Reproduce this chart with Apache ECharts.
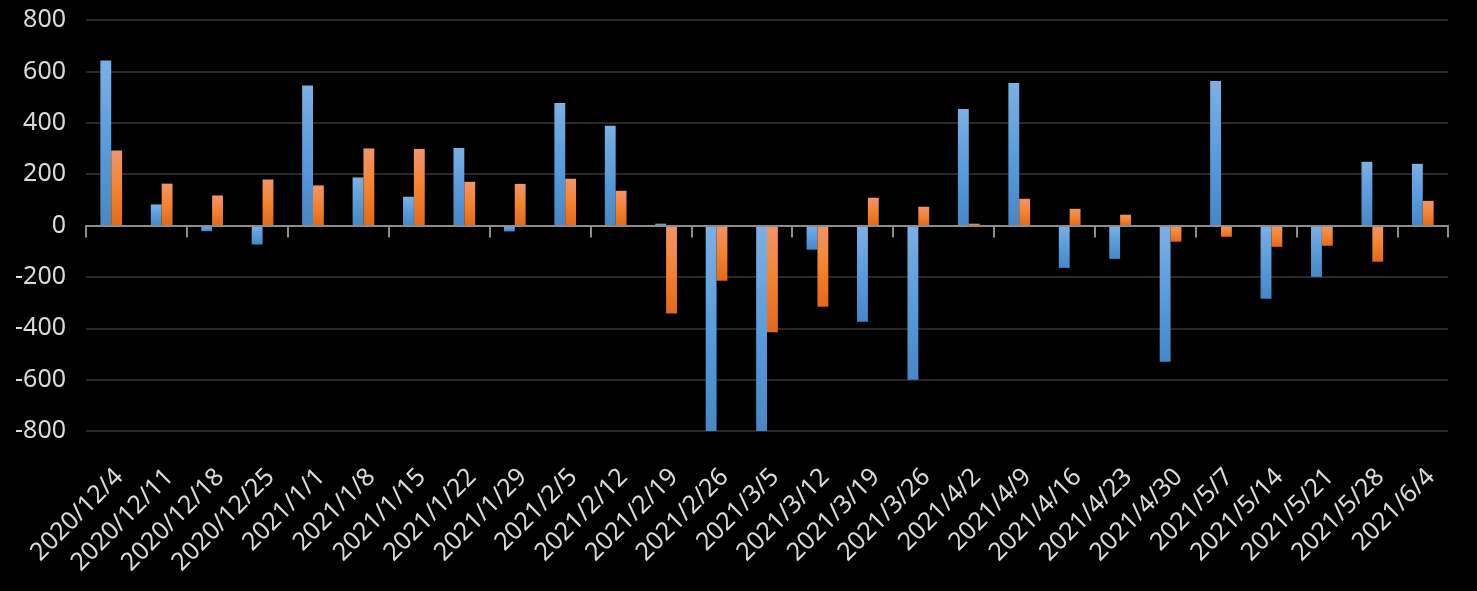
<!DOCTYPE html>
<html>
<head>
<meta charset="utf-8">
<script src="https://cdn.jsdelivr.net/npm/echarts@6/dist/echarts.min.js"></script>
<style>
html,body{margin:0;padding:0;background:#000;}
#c{width:1477px;height:591px;}
</style>
</head>
<body>
<div id="c"></div>
<script>
const categories = ["2020/12/4","2020/12/11","2020/12/18","2020/12/25","2021/1/1","2021/1/8","2021/1/15","2021/1/22","2021/1/29","2021/2/5","2021/2/12","2021/2/19","2021/2/26","2021/3/5","2021/3/12","2021/3/19","2021/3/26","2021/4/2","2021/4/9","2021/4/16","2021/4/23","2021/4/30","2021/5/7","2021/5/14","2021/5/21","2021/5/28","2021/6/4"];
const seriesBlue = [642, 82, -22, -74, 545, 187, 112, 302, -23, 477, 388, 7, -800, -800, -94, -375, -600, 454, 555, -165, -130, -530, 563, -285, -200, 248, 240];
const seriesOrange = [292, 163, 117, 179, 156, 300, 298, 170, 162, 182, 135, -343, -215, -416, -316, 108, 73, 7, 104, 65, 42, -63, -44, -83, -79, -141, 96];
const yMin = -800, yMax = 800, yStep = 200;

const chart = echarts.init(document.getElementById('c'), null, {renderer: 'canvas'});
const FONT = '"Noto Sans", "Open Sans", sans-serif';
const labelColor = '#dadada';
function grad(c0, c1, c2) {
  return new echarts.graphic.LinearGradient(0, 0, 0, 1, [
    {offset: 0, color: c0}, {offset: 0.5, color: c1}, {offset: 1, color: c2}
  ]);
}
chart.setOption({
  backgroundColor: '#000000',
  animation: false,
  grid: [
    {left: 86, right: 29, top: 20, bottom: 160},
    {left: 94, right: 21, top: 20, bottom: 160}
  ],
  xAxis: [
    {
      type: 'category', gridIndex: 0, data: categories, z: 5,
      axisLine: {onZero: true, lineStyle: {color: '#8c8c8c', width: 2}},
      axisTick: {show: true, length: 12, lineStyle: {color: '#8c8c8c', width: 2}},
      axisLabel: {show: false},
      splitLine: {show: false}
    },
    {
      type: 'category', gridIndex: 1, data: categories, position: 'bottom',
      axisLine: {show: false, onZero: false},
      axisTick: {show: false},
      axisLabel: {show: true, interval: 0, rotate: 45, margin: 42, fontSize: 25, color: labelColor, fontFamily: FONT},
      splitLine: {show: false}
    }
  ],
  yAxis: [
    {
      type: 'value', gridIndex: 0, min: yMin, max: yMax, interval: yStep,
      axisLine: {show: false}, axisTick: {show: false},
      axisLabel: {fontSize: 25, color: labelColor, margin: 20, fontFamily: FONT},
      splitLine: {lineStyle: {color: '#282828', width: 2}}
    },
    {
      type: 'value', gridIndex: 1, min: yMin, max: yMax, interval: yStep,
      show: false
    }
  ],
  series: [
    {
      name: 'Series1', type: 'bar', xAxisIndex: 0, yAxisIndex: 0, data: seriesBlue,
      barGap: '0%', barCategoryGap: '57%',
      itemStyle: {color: grad('#7cb0e3', '#5a9cdc', '#4787c6')}
    },
    {
      name: 'Series2', type: 'bar', xAxisIndex: 0, yAxisIndex: 0, data: seriesOrange,
      barGap: '0%', barCategoryGap: '57%',
      itemStyle: {color: grad('#f1956a', '#f5832e', '#e1691b')}
    }
  ]
});
</script>
</body>
</html>
